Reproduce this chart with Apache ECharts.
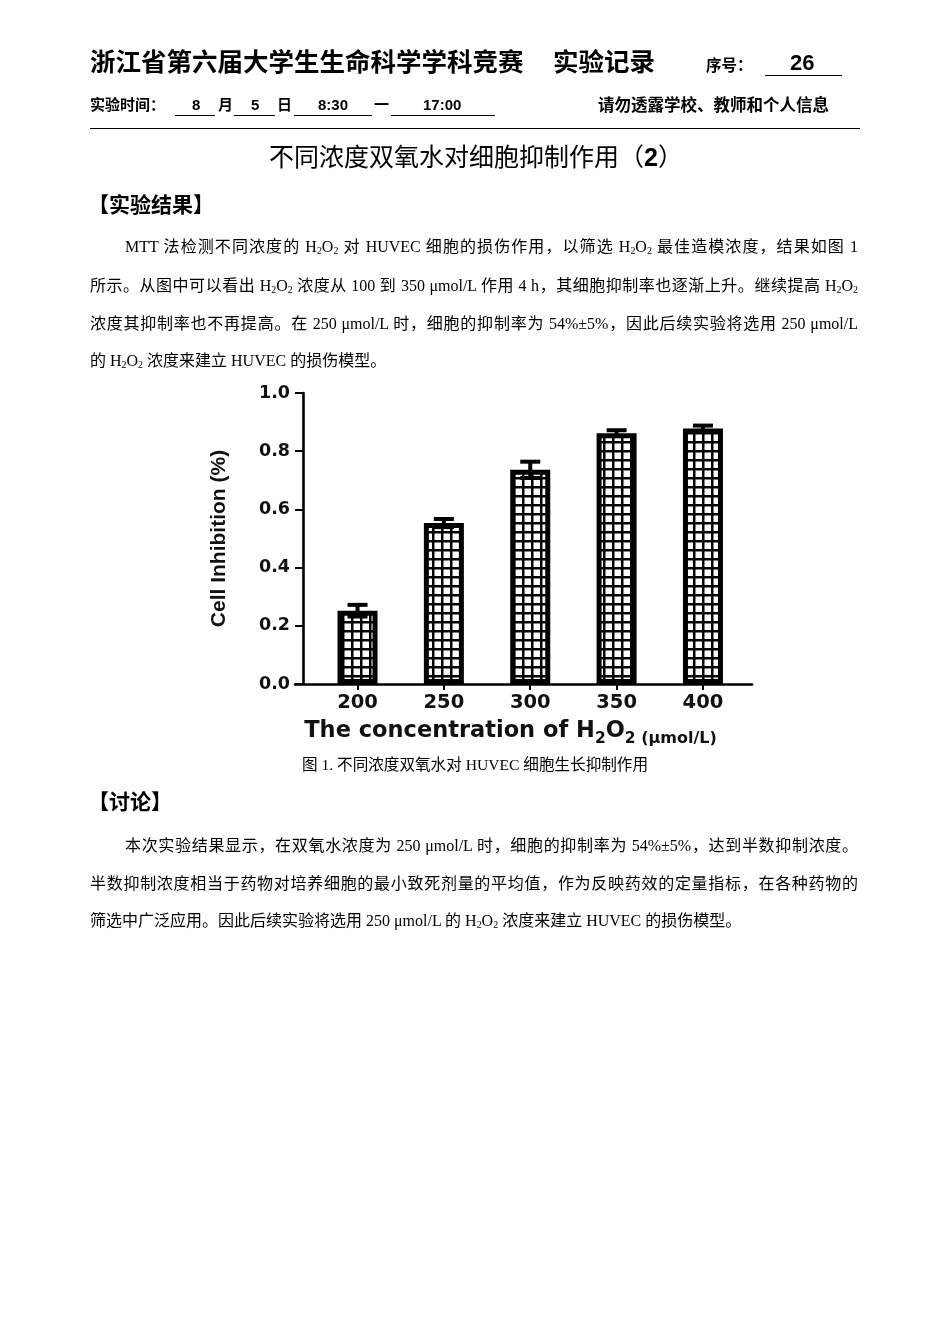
<!DOCTYPE html>
<html>
<head>
<meta charset="utf-8">
<script src="https://cdn.jsdelivr.net/npm/echarts@6/dist/echarts.min.js"></script>
<style>
html,body{margin:0;padding:0;background:#fff;}
#page{position:relative;width:950px;height:1344px;overflow:hidden;}
#chart{position:absolute;left:0;top:0;width:950px;height:1344px;}
.t{position:absolute;white-space:nowrap;color:#000;font-family:"Liberation Serif","Noto Sans CJK SC",serif;}
.hei{font-family:"Liberation Sans","Noto Sans CJK SC",sans-serif;}
.b{font-weight:bold;}
.ul{position:absolute;height:0;border-top:1.6px solid #000;}
.line{position:absolute;left:90px;width:768px;font-size:16px;line-height:20px;height:20px;white-space:nowrap;font-family:"Liberation Serif","Noto Sans CJK SC",serif;color:#000;}
.j{text-align:justify;text-align-last:justify;white-space:normal;}
sub{font-size:0.62em;line-height:0;vertical-align:-0.25em;}
</style>
</head>
<body>
<div id="page">
<div id="chart"></div>

<div class="t hei b" style="left:90px;top:48px;font-size:25.5px;line-height:28px;">浙江省第六届大学生生命科学学科竞赛</div>
<div class="t hei b" style="left:553px;top:48px;font-size:25.5px;line-height:28px;">实验记录</div>
<div class="t hei b" style="left:706px;top:57px;font-size:15.5px;line-height:18px;">序号：</div>
<div class="t hei b" style="left:790px;top:51px;font-size:22px;line-height:24px;">26</div>
<div class="ul" style="left:765px;top:75px;width:77px;"></div>

<div class="t hei b" style="left:90px;top:96px;font-size:15px;line-height:18px;">实验时间：</div>
<div class="ul" style="left:175px;top:115px;width:40px;"></div>
<div class="t hei b" style="left:192px;top:96px;font-size:15px;line-height:18px;">8</div>
<div class="t hei b" style="left:218px;top:96px;font-size:15px;line-height:18px;">月</div>
<div class="ul" style="left:234px;top:115px;width:41px;"></div>
<div class="t hei b" style="left:251px;top:96px;font-size:15px;line-height:18px;">5</div>
<div class="t hei b" style="left:277px;top:96px;font-size:15px;line-height:18px;">日</div>
<div class="ul" style="left:294px;top:115px;width:78px;"></div>
<div class="t hei b" style="left:318px;top:96px;font-size:15px;line-height:18px;">8:30</div>
<div class="t hei b" style="left:374px;top:96px;font-size:15px;line-height:18px;">一</div>
<div class="ul" style="left:391px;top:115px;width:104px;"></div>
<div class="t hei b" style="left:423px;top:96px;font-size:15px;line-height:18px;">17:00</div>
<div class="t hei b" style="left:598px;top:96px;font-size:16.5px;line-height:18px;">请勿透露学校、教师和个人信息</div>
<div class="ul" style="left:90px;top:128px;width:770px;border-top-width:1.5px;"></div>

<div class="t hei" style="left:0;width:952px;text-align:center;top:144px;font-size:25px;line-height:27px;">不同浓度双氧水对细胞抑制作用（<span class="b">2</span>）</div>
<div class="t hei b" style="left:88px;top:193px;font-size:21px;line-height:24px;">【实验结果】</div>

<div class="line j" style="top:237px;padding-left:35px;width:733px;">MTT 法检测不同浓度的 H<sub>2</sub>O<sub>2</sub> 对 HUVEC 细胞的损伤作用，以筛选 H<sub>2</sub>O<sub>2</sub> 最佳造模浓度，结果如图 1</div>
<div class="line j" style="top:276px;">所示。从图中可以看出 H<sub>2</sub>O<sub>2</sub> 浓度从 100 到 350 μmol/L 作用 4 h，其细胞抑制率也逐渐上升。继续提高 H<sub>2</sub>O<sub>2</sub></div>
<div class="line j" style="top:314px;">浓度其抑制率也不再提高。在 250 μmol/L 时，细胞的抑制率为 54%±5%，因此后续实验将选用 250 μmol/L</div>
<div class="line" style="top:351px;">的 H<sub>2</sub>O<sub>2</sub> 浓度来建立 HUVEC 的损伤模型。</div>

<div class="t" style="left:0;width:950px;text-align:center;top:756px;font-size:15.6px;line-height:18px;">图 1. 不同浓度双氧水对 HUVEC 细胞生长抑制作用</div>
<div class="t hei b" style="left:88px;top:790px;font-size:21px;line-height:24px;">【讨论】</div>

<div class="line j" style="top:836px;padding-left:35px;width:733px;">本次实验结果显示，在双氧水浓度为 250 μmol/L 时，细胞的抑制率为 54%±5%，达到半数抑制浓度。</div>
<div class="line j" style="top:874px;">半数抑制浓度相当于药物对培养细胞的最小致死剂量的平均值，作为反映药效的定量指标，在各种药物的</div>
<div class="line" style="top:911px;">筛选中广泛应用。因此后续实验将选用 250 μmol/L 的 H<sub>2</sub>O<sub>2</sub> 浓度来建立 HUVEC 的损伤模型。</div>
</div>

<script>
// ---- data ----
const concentrations = [200, 250, 300, 350, 400];
const inhibition = [0.252, 0.553, 0.736, 0.862, 0.878];
const errors = [0.02, 0.014, 0.028, 0.01, 0.01];
const yTickLabels = ['0.0', '0.2', '0.4', '0.6', '0.8', '1.0'];

// grid-pattern fill for bars
const pat = document.createElement('canvas');
pat.width = 9; pat.height = 9;
const pc = pat.getContext('2d');
pc.fillStyle = '#fff'; pc.fillRect(0, 0, 9, 9);
pc.fillStyle = '#000';
pc.fillRect(0, 0, 2.5, 9);
pc.fillRect(0, 0, 9, 2.5);

const barData = concentrations.map((c, i) => [c, inhibition[i]]);
const errData = concentrations.map((c, i) => [c, inhibition[i], errors[i]]);

const chart = echarts.init(document.getElementById('chart'), null, {renderer: 'canvas', devicePixelRatio: 1});
chart.setOption({
  backgroundColor: 'transparent',
  animation: false,
  grid: {left: 295, right: 198, top: 393, bottom: 660},
  xAxis: {
    type: 'value', min: 163.8, max: 428.4,
    axisLine: {lineStyle: {color: '#000', width: 2.6}},
    axisTick: {show: true, customValues: concentrations, length: 6, lineStyle: {color: '#000', width: 2}},
    axisLabel: {customValues: concentrations, color: '#111', fontFamily: 'DejaVu Sans', fontWeight: 'bold', fontSize: 19.5, margin: 9},
    splitLine: {show: false},
    name: '{a|The concentration of H}{s|2}{a|O}{s|2}{u| (μmol/L)}',
    nameLocation: 'middle', nameGap: 31,
    nameTextStyle: {
      padding: [0, 26, 0, 0],
      rich: {
        a: {fontFamily: 'DejaVu Sans', fontWeight: 'bold', fontSize: 22.5, color: '#111', lineHeight: 32, verticalAlign: 'middle'},
        s: {fontFamily: 'DejaVu Sans', fontWeight: 'bold', fontSize: 15.5, color: '#111', lineHeight: 15, verticalAlign: 'bottom'},
        u: {fontFamily: 'DejaVu Sans', fontWeight: 'bold', fontSize: 16, color: '#111', lineHeight: 17, verticalAlign: 'bottom'}
      }
    }
  },
  yAxis: {
    type: 'value', min: 0, max: 1, interval: 0.2, offset: -8,
    axisLine: {show: true, lineStyle: {color: '#000', width: 2.6}},
    axisTick: {show: true, length: 8, lineStyle: {color: '#000', width: 2}},
    axisLabel: {color: '#111', fontFamily: 'DejaVu Sans', fontWeight: 'bold', fontSize: 17.5, margin: 13,
      formatter: (v) => yTickLabels[Math.round(v / 0.2)]},
    splitLine: {show: false},
    name: 'Cell Inhibition (%)', nameLocation: 'middle', nameGap: 73, nameRotate: 90,
    nameTextStyle: {fontFamily: 'Liberation Sans', fontWeight: 'bold', fontSize: 21, color: '#111'}
  },
  series: [
    {
      type: 'bar', data: barData, barWidth: 40,
      itemStyle: {color: {image: pat, repeat: 'repeat'}, borderColor: '#000', borderWidth: 5}
    },
    {
      type: 'custom', data: errData, z: 5,
      renderItem: function (params, api) {
        const x = api.value(0), v = api.value(1), e = api.value(2);
        const top = api.coord([x, v + e]);
        const bot = api.coord([x, v - e]);
        const hw = 10;
        const style = {stroke: '#000', lineWidth: 4};
        return {type: 'group', children: [
          {type: 'line', shape: {x1: top[0], y1: top[1], x2: bot[0], y2: bot[1]}, style: style},
          {type: 'line', shape: {x1: top[0] - hw, y1: top[1], x2: top[0] + hw, y2: top[1]}, style: style},
          {type: 'line', shape: {x1: bot[0] - hw, y1: bot[1], x2: bot[0] + hw, y2: bot[1]}, style: style}
        ]};
      }
    }
  ]
});
</script>
</body>
</html>
